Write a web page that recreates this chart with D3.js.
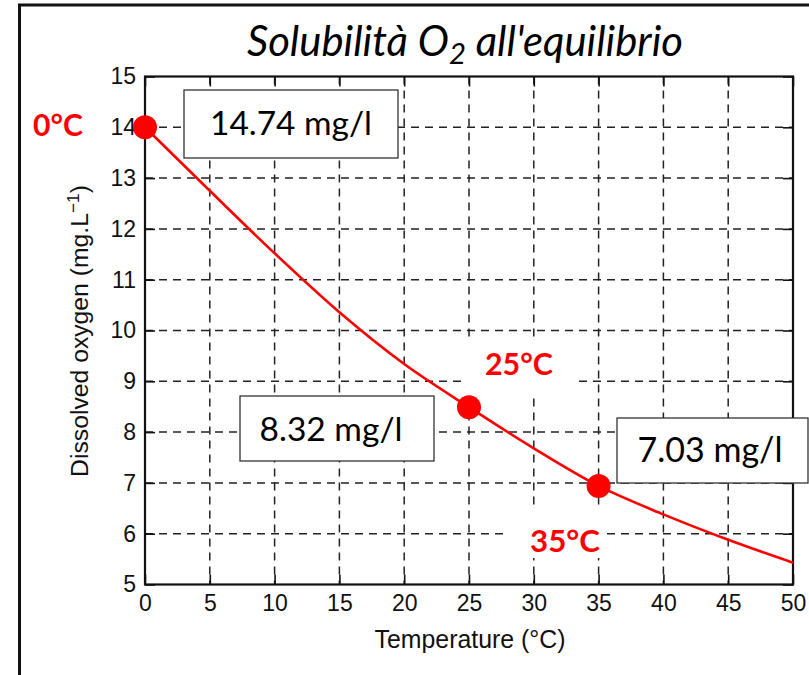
<!DOCTYPE html>
<html><head><meta charset="utf-8">
<script src="https://cdn.jsdelivr.net/npm/d3@7"></script>
<style>html,body{margin:0;padding:0;background:#fff}svg{display:block}</style>
</head><body>
<svg id="c" width="809" height="675"></svg>
<script>
const temps = [0,5,10,15,20,25,30,35,40,45,50];
const oxygen = [14.0,12.75,11.52,10.36,9.34,8.49,7.68,6.94,6.38,5.88,5.43];
const markTemps = [0,25,35];
const markValues = [14.0,8.49,6.94];
const markLabels = ["0°C","25°C","35°C"];
const boxLabels = ["14.74 mg/l","8.32 mg/l","7.03 mg/l"];
const xTicks = [0,5,10,15,20,25,30,35,40,45,50];
const yTicks = [5,6,7,8,9,10,11,12,13,14,15];
const title = "Solubilità O";
const xTitle = "Temperature (°C)";
const yTitle = "Dissolved oxygen (mg.L";

const svg = d3.select("#c");
const L=145, R=793, T=76.5, B=584.5;
const x = d3.scaleLinear().domain([0,50]).range([L,R]);
const y = d3.scaleLinear().domain([5,15]).range([B,T]);
const RED="#ff0000";

function fit(sel, w){ const n=sel.node(); const fs=parseFloat(sel.attr("font-size")); const cw=n.getComputedTextLength(); sel.attr("font-size", fs*w/cw); }

// outer frame
svg.append("rect").attr("x",19.5).attr("y",5).attr("width",900).attr("height",900).attr("fill","none").attr("stroke","#111").attr("stroke-width",3);

// title
const tt = svg.append("text").attr("x",465).attr("y",56).attr("text-anchor","middle")
  .attr("font-family","Lato").attr("font-style","italic").attr("font-size",36).attr("fill","#000");
tt.append("tspan").text(title);
tt.append("tspan").attr("font-size","70%").attr("dy",8).text("2");
tt.append("tspan").attr("dy",-8).text(" all'equilibrio");
{ const w=tt.node().getBBox().width; tt.attr("font-size",36*436/w); }

// grid
const g = svg.append("g");
g.selectAll("line.gx").data(xTicks.slice(1,-1)).join("line")
  .attr("x1",d=>x(d)).attr("x2",d=>x(d)).attr("y1",T).attr("y2",B)
  .attr("stroke","#222").attr("stroke-width",1.5).attr("stroke-dasharray","8,6");
g.selectAll("line.gy").data(yTicks.slice(1,-1)).join("line")
  .attr("y1",d=>y(d)).attr("y2",d=>y(d)).attr("x1",L).attr("x2",R)
  .attr("stroke","#222").attr("stroke-width",1.5).attr("stroke-dasharray","8,6");

// axes
const ax = d3.axisBottom(x).tickValues(xTicks).tickSize(-10).tickPadding(10);
const ay = d3.axisLeft(y).tickValues(yTicks).tickSize(-10).tickPadding(9);
const axT = d3.axisTop(x).tickValues(xTicks).tickSize(-10).tickFormat("");
const ayR = d3.axisRight(y).tickValues(yTicks).tickSize(-10).tickFormat("");
function style(s){ s.attr("font-size",null).attr("font-family",null);
  s.select(".domain").remove(); s.selectAll("line").attr("stroke","#111").attr("stroke-width",1.6);
  s.selectAll("text").style("font-family","'Liberation Sans'").style("font-size","23px").attr("fill","#111"); }
svg.append("g").attr("transform",`translate(0,${B})`).call(ax).call(style);
svg.append("g").attr("transform",`translate(${L},0)`).call(ay).call(style);
svg.append("g").attr("transform",`translate(0,${T})`).call(axT).call(style);
svg.append("g").attr("transform",`translate(${R},0)`).call(ayR).call(style);
svg.append("rect").attr("x",L).attr("y",T).attr("width",R-L).attr("height",B-T).attr("fill","none").attr("stroke","#111").attr("stroke-width",2.2);

// axis titles
const xt = svg.append("text").attr("x",470).attr("y",648).attr("text-anchor","middle")
  .attr("font-family","Liberation Sans").attr("font-size",23).attr("fill","#111").text(xTitle);
fit(xt,191);
const yt = svg.append("text").attr("transform","translate(88,331) rotate(-90)").attr("text-anchor","middle")
  .attr("font-family","Liberation Sans").attr("font-size",23).attr("fill","#111");
yt.append("tspan").text(yTitle);
yt.append("tspan").attr("font-size","70%").attr("dy",-9).text("−1");
yt.append("tspan").attr("dy",9).text(")");
{ const w=yt.node().getBBox().width; yt.attr("font-size",23*292/w); }

// curve
const pts = temps.map((t,i)=>[t,oxygen[i]]);
svg.append("path").datum(pts).attr("fill","none").attr("stroke",RED).attr("stroke-width",2.6)
  .attr("d", d3.line().x(d=>x(d[0])).y(d=>y(d[1])).curve(d3.curveMonotoneX));

// white backgrounds behind red labels
const bg = [[462,338,113,55],[503,507,104,51]];
svg.selectAll("rect.bg").data(bg).join("rect").attr("x",d=>d[0]).attr("y",d=>d[1]).attr("width",d=>d[2]).attr("height",d=>d[3]).attr("fill","#fff");

// boxes
const boxes = [[184,90,214,68,291,135],[240,396,194,65,331,441],[617,418,191,65,710,462]];
boxes.forEach((b,i)=>{
  svg.append("rect").attr("x",b[0]).attr("y",b[1]).attr("width",b[2]).attr("height",b[3])
    .attr("fill","#fff").attr("stroke","#333").attr("stroke-width",1.3);
  const t = svg.append("text").attr("x",b[4]).attr("y",b[5]).attr("text-anchor","middle")
    .attr("font-family","Lato").attr("font-size",32).attr("fill","#000").text(boxLabels[i]);
  fit(t,[162,143,145][i]);
});

// red labels
const lp = [[33,136,50],[485,375,68],[530,552,70]];
lp.forEach((p,i)=>{
  const t=svg.append("text").attr("x",p[0]).attr("y",p[1]).attr("font-family","Lato").attr("font-weight","bold")
    .attr("font-size",30).attr("fill",RED).text(markLabels[i]);
  fit(t,p[2]);
});

// points
svg.selectAll("circle.m").data(markTemps).join("circle")
  .attr("cx",d=>x(d)).attr("cy",(d,i)=>y(markValues[i])).attr("r",12).attr("fill",RED);
</script>
</body></html>
